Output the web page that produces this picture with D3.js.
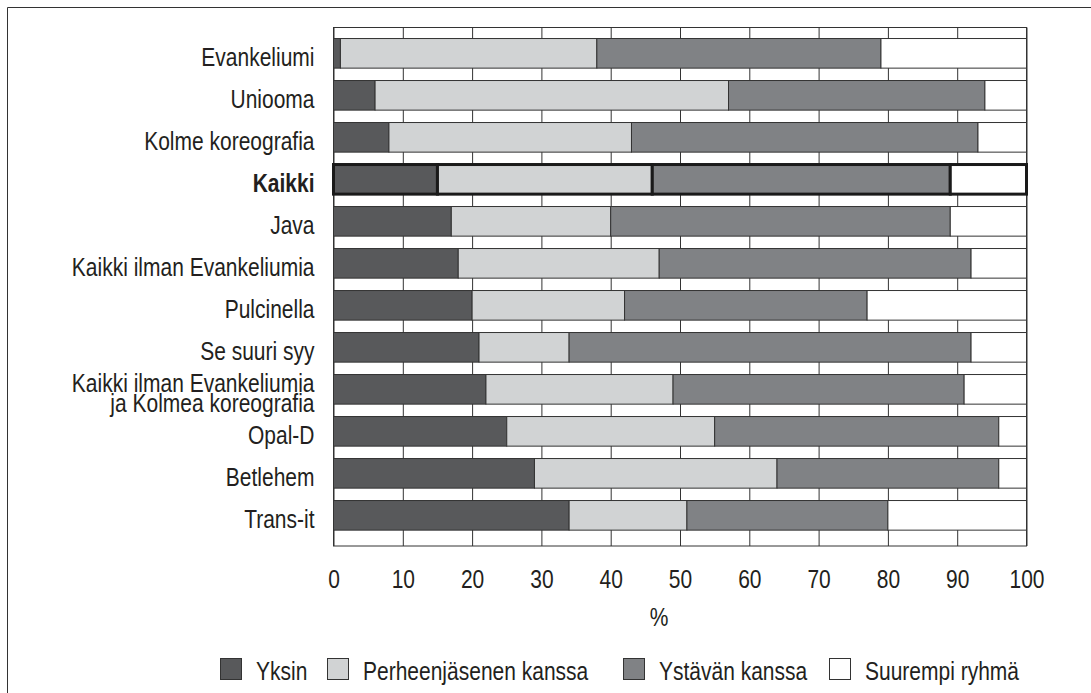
<!DOCTYPE html>
<html>
<head>
<meta charset="utf-8">
<script src="https://cdn.jsdelivr.net/npm/d3@7"></script>
<style>
body { margin: 0; background: #fff; }
text { font-family: "Liberation Sans", Arial, sans-serif; fill: #231f20; }
</style>
</head>
<body>
<div id="chartArea"></div>
<script>
// data (percent)
var categories = ["Evankeliumi", "Uniooma", "Kolme koreografia", "Kaikki", "Java",
	"Kaikki ilman Evankeliumia", "Pulcinella", "Se suuri syy",
	"Kaikki ilman Evankeliumia\nja Kolmea koreografia", "Opal-D", "Betlehem", "Trans-it"];
var yksin =     [1, 6, 8, 15, 17, 18, 20, 21, 22, 25, 29, 34];
var perheen =   [37, 51, 35, 31, 23, 29, 22, 13, 27, 30, 35, 17];
var ystavan =   [41, 37, 50, 43, 49, 45, 35, 58, 42, 41, 32, 29];
var suurempi =  [21, 6, 7, 11, 11, 8, 23, 8, 9, 4, 4, 20];
var seriesNames = ["Yksin", "Perheenjäsenen kanssa", "Ystävän kanssa", "Suurempi ryhmä"];
var xTicks = [0, 10, 20, 30, 40, 50, 60, 70, 80, 90, 100];
var highlight = "Kaikki";

var W = 1091, H = 693;
var plot = {left: 333.5, right: 1026.5, top: 27.5, bottom: 546};
var fills = ["#58595b", "#d1d3d4", "#808285", "#ffffff"];
var legendX = [220, 327, 623, 829];
var narrow = " scale(0.84,1)"; // condensed look, no narrow font installed

var place = function(x, y) {
	return "translate(" + x + "," + y + ")" + narrow;
};

var svg = d3.select("#chartArea").append("svg")
	.attr("width", W)
	.attr("height", H);

// outer frame (cut by the page edge on the right and bottom)
svg.append("path")
	.attr("d", "M7.5," + (H + 2) + "V7.5H" + (W + 2))
	.attr("fill", "none")
	.attr("stroke", "#333")
	.attr("stroke-width", 1);

var x = d3.scaleLinear()
	.domain([0, 100])
	.range([plot.left, plot.right]);

var y = d3.scaleBand()
	.domain(categories)
	.range([plot.top, plot.bottom])
	.paddingInner(0.295)
	.paddingOuter(0.32)
	.align(0.41);

var rows = categories.map(function(c, i) {
	return {cat: c, s0: yksin[i], s1: perheen[i], s2: ystavan[i], s3: suurempi[i]};
});
var stack = d3.stack().keys(["s0", "s1", "s2", "s3"])(rows);

// plot frame + vertical grid
svg.append("rect")
	.attr("x", plot.left)
	.attr("y", plot.top)
	.attr("width", plot.right - plot.left)
	.attr("height", plot.bottom - plot.top)
	.attr("fill", "none")
	.attr("stroke", "#333")
	.attr("stroke-width", 1);

svg.append("g")
	.attr("class", "grid")
	.attr("transform", "translate(0," + plot.bottom + ")")
	.call(d3.axisBottom(x)
		.tickValues(xTicks)
		.tickSize(-(plot.bottom - plot.top))
		.tickFormat("")
	)
	.call(function(g) { g.select(".domain").remove(); })
	.selectAll("line")
	.attr("stroke", "#333");

// bars
svg.append("g")
	.selectAll("g")
	.data(stack)
	.enter().append("g")
	.attr("fill", function(d, i) { return fills[i]; })
	.selectAll("rect")
	.data(function(d) { return d; })
	.enter().append("rect")
	.attr("x", function(d) { return x(d[0]); })
	.attr("y", function(d) { return y(d.data.cat); })
	.attr("width", function(d) { return x(d[1]) - x(d[0]); })
	.attr("height", y.bandwidth())
	.attr("stroke", function(d) { return d.data.cat === highlight ? "#1a1a1a" : "#333"; })
	.attr("stroke-width", function(d) { return d.data.cat === highlight ? 3 : 1; });

// category labels
var labels = svg.append("g")
	.attr("font-size", 25)
	.attr("text-anchor", "end")
	.selectAll("text")
	.data(categories)
	.enter().append("text")
	.attr("font-weight", function(d) { return d === highlight ? "bold" : null; })
	.attr("transform", function(d) { return place(plot.left - 19, y(d) + y.bandwidth() / 2 + 12.4); });

labels.each(function(d) {
	var lines = d.split("\n");
	var t = d3.select(this);
	lines.forEach(function(l, i) {
		t.append("tspan")
			.attr("x", 0)
			.attr("dy", i === 0 ? (-(lines.length - 1) * 10) : 20)
			.text(l);
	});
});

// x axis labels
svg.append("g")
	.attr("transform", "translate(0," + plot.bottom + ")")
	.call(d3.axisBottom(x).tickValues(xTicks).tickSize(0))
	.call(function(g) { g.select(".domain").remove(); })
	.selectAll("text")
	.attr("y", 0)
	.attr("dy", 0)
	.attr("transform", place(0, 42))
	.attr("font-size", 25)
	.attr("font-family", null);

svg.append("text")
	.attr("transform", place(659, 626))
	.attr("font-size", 25)
	.attr("text-anchor", "middle")
	.text("%");

// legend
var legend = svg.append("g")
	.selectAll("g")
	.data(seriesNames)
	.enter().append("g")
	.attr("transform", function(d, i) { return "translate(" + legendX[i] + ",658)"; });

legend.append("rect")
	.attr("x", 0.5)
	.attr("y", 0.5)
	.attr("width", 21)
	.attr("height", 21)
	.attr("fill", function(d, i) { return fills[i]; })
	.attr("stroke", "#333");

legend.append("text")
	.attr("transform", place(36, 21.5))
	.attr("font-size", 25)
	.text(function(d) { return d; });
</script>
</body>
</html>
